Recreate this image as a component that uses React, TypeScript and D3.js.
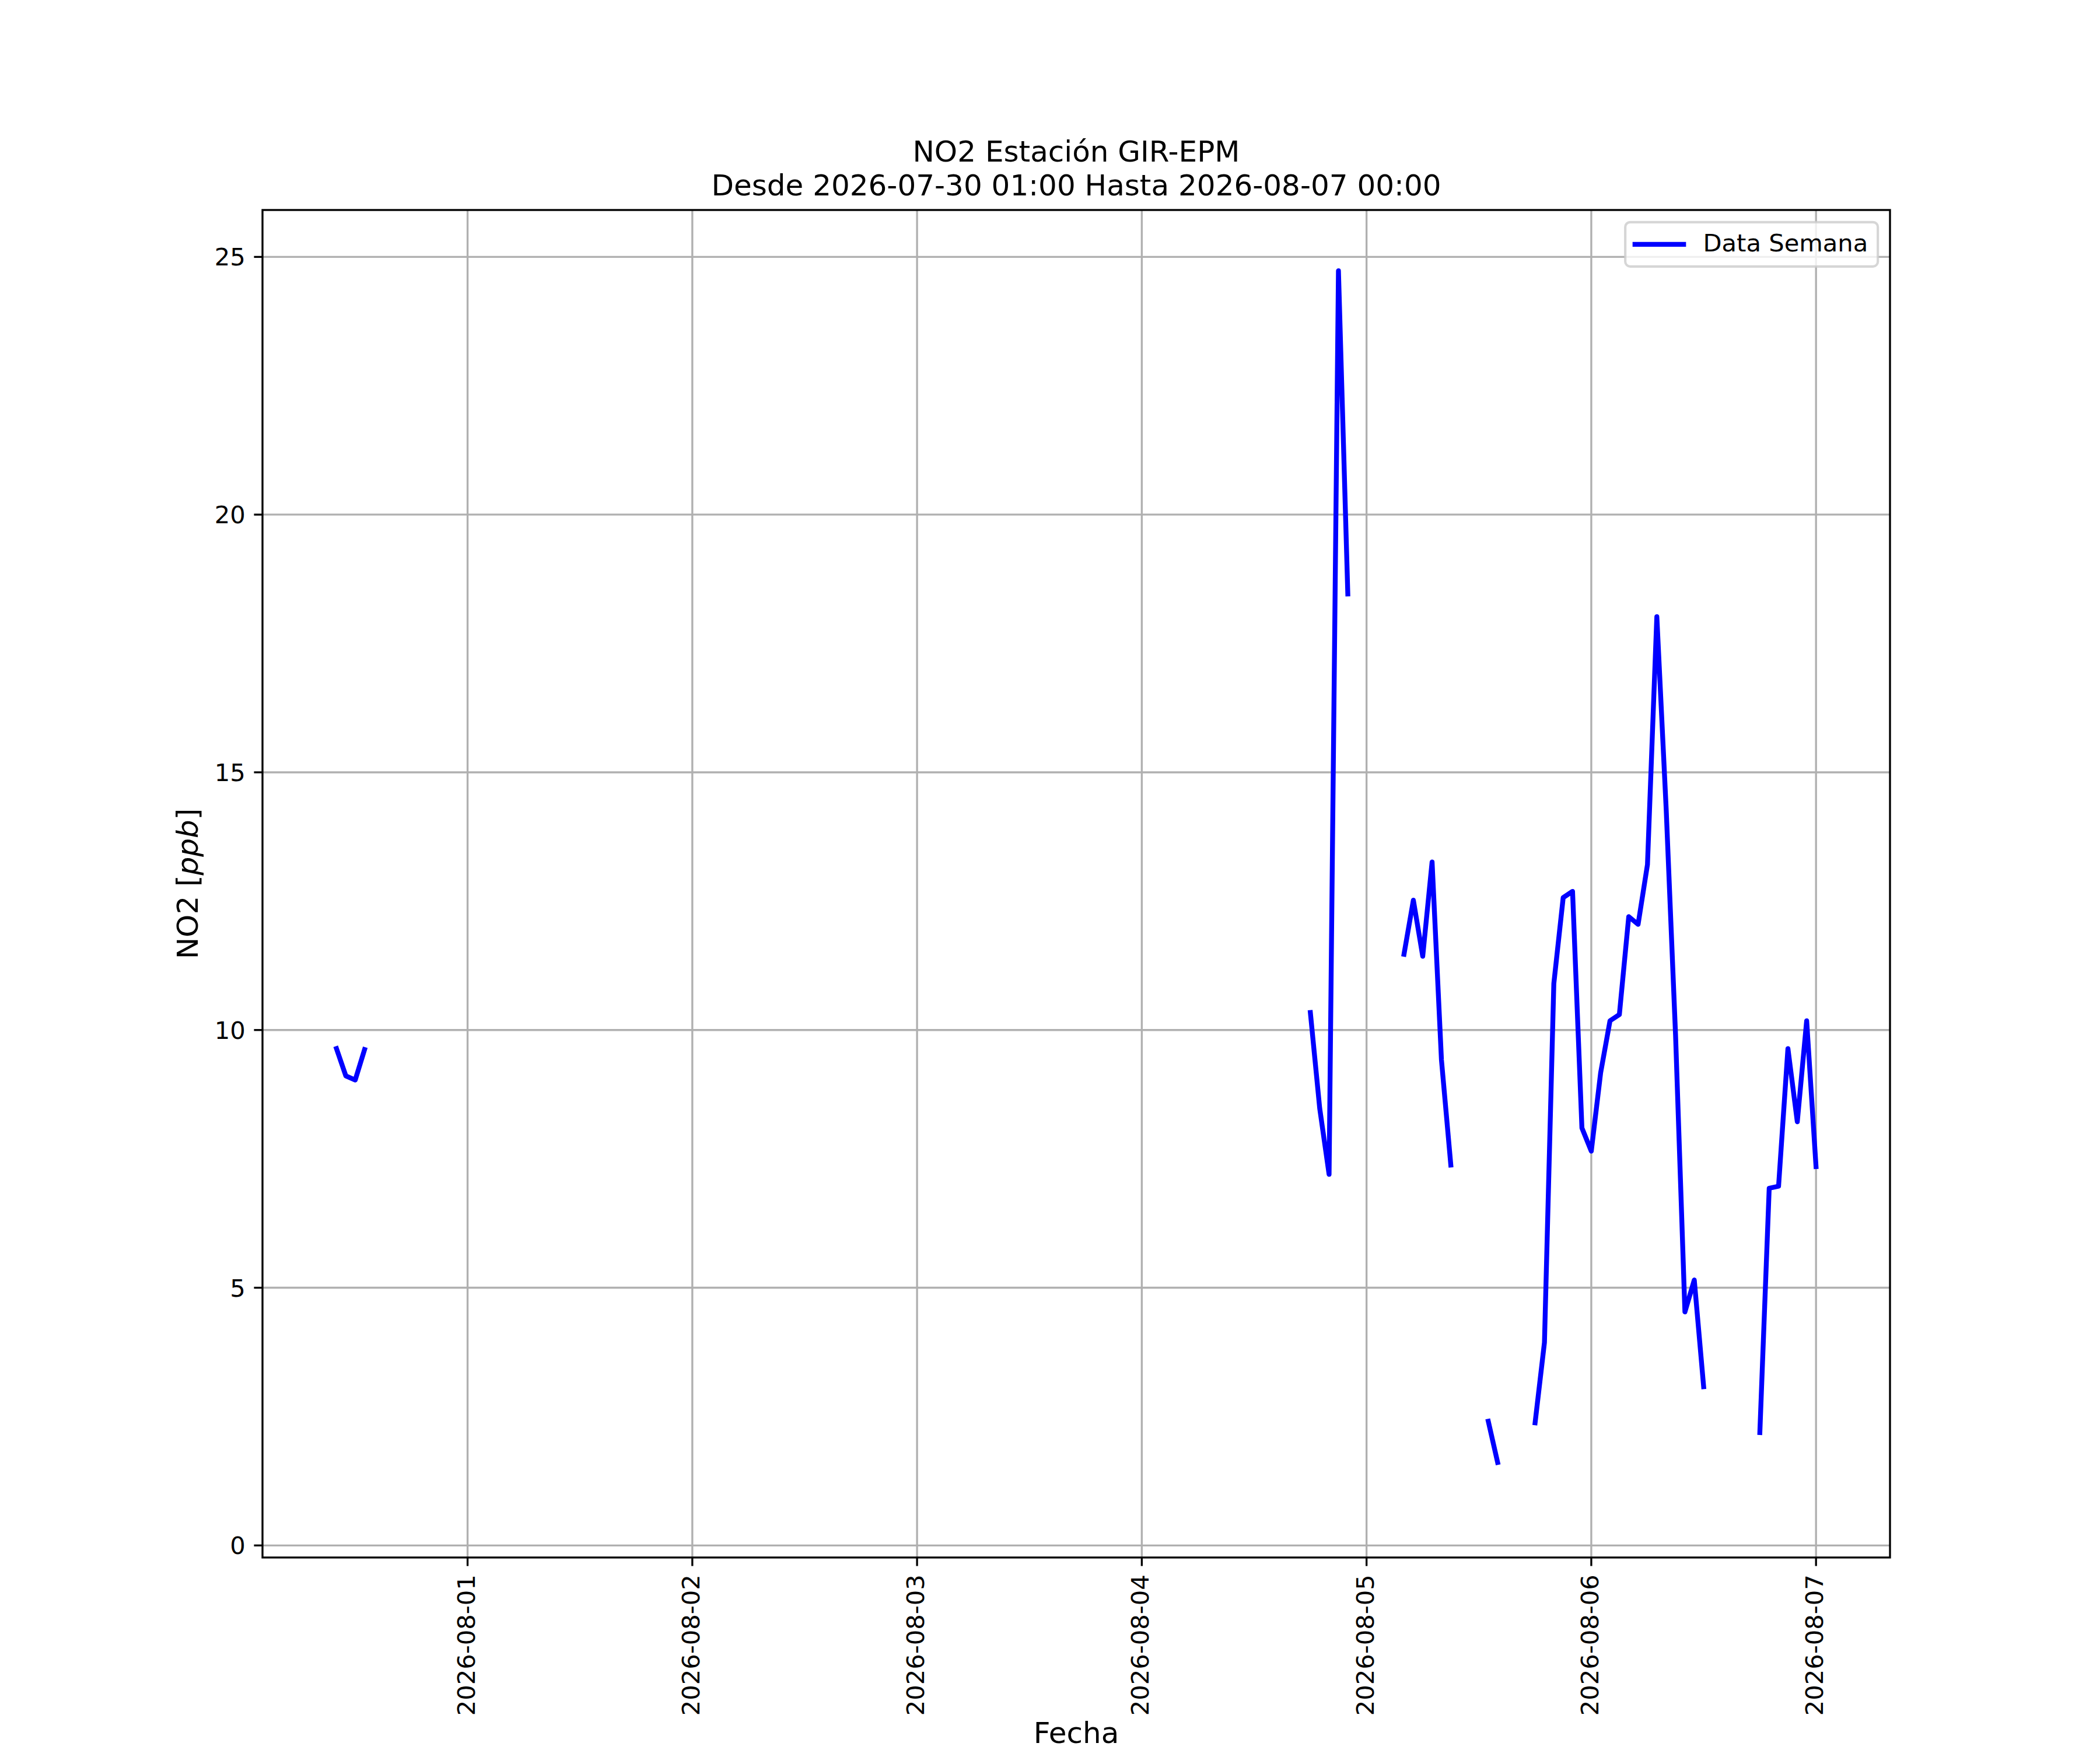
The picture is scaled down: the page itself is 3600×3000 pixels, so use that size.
import React, { useEffect, useRef } from "react";
import * as d3 from "d3";

// hourly NO2 readings, one array per unbroken stretch of data
const seg1Start = "2026-07-31T10:00:00Z";
const seg1Values = [9.64, 9.11, 9.03, 9.62];
const seg2Start = "2026-08-04T18:00:00Z";
const seg2Values = [10.34, 8.48, 7.2, 24.73, 18.46];
const seg3Start = "2026-08-05T04:00:00Z";
const seg3Values = [11.47, 12.52, 11.43, 13.26, 9.42, 7.38];
const seg4Start = "2026-08-05T13:00:00Z";
const seg4Values = [2.41, 1.61];
const seg5Start = "2026-08-05T18:00:00Z";
const seg5Values = [
  2.38, 3.94, 10.9, 12.57, 12.69, 8.1, 7.65, 9.17, 10.18, 10.3, 12.2, 12.05,
  13.21, 18.02, 14.28, 9.9, 4.53, 5.15, 3.08,
];
const seg6Start = "2026-08-06T18:00:00Z";
const seg6Values = [2.19, 6.93, 6.97, 9.64, 8.22, 10.18, 7.35];

const yTicks = [0, 5, 10, 15, 20, 25];
// y limits as shown in the picture
const yMin = -0.234;
const yMax = 25.91;

const titleLines = ["NO2 Estación GIR-EPM", "Desde 2026-07-30 01:00 Hasta 2026-08-07 00:00"];
const legendLabel = "Data Semana";

const W = 3600;
const H = 3000;
const margin = { left: 450, right: 360, top: 360, bottom: 330 };
const FONT = "DejaVu Sans, Verdana, sans-serif";
const pt = 300 / 72;

function buildSegment(start: string, values: number[]) {
  const t0 = new Date(start);
  return values.map((v, i) => ({ t: d3.utcHour.offset(t0, i), v }));
}

const App = () => {
  const ref = useRef<SVGSVGElement>(null);

  useEffect(() => {
    const svg = d3.select(ref.current);
    svg.selectAll("*").remove();

    const segments = [
      buildSegment(seg1Start, seg1Values),
      buildSegment(seg2Start, seg2Values),
      buildSegment(seg3Start, seg3Values),
      buildSegment(seg4Start, seg4Values),
      buildSegment(seg5Start, seg5Values),
      buildSegment(seg6Start, seg6Values),
    ];
    const all = segments.flat();

    const x0 = W - margin.left - margin.right;
    const y0 = H - margin.top - margin.bottom;

    // matplotlib style 5% padding on the time axis
    const tMin: any = d3.min(all, (d) => +d.t);
    const tMax: any = d3.max(all, (d) => +d.t);
    const pad = (tMax - tMin) * 0.05;
    const xScale = d3
      .scaleUtc()
      .domain([new Date(tMin - pad), new Date(tMax + pad)])
      .range([0, x0]);
    const yScale = d3.scaleLinear().domain([yMin, yMax]).range([y0, 0]);

    const g = svg.append("g").attr("transform", `translate(${margin.left},${margin.top})`);

    const xTicks = xScale.ticks(d3.utcDay);
    const fmt = d3.utcFormat("%Y-%m-%d");

    // grid
    g.append("g")
      .selectAll("line")
      .data(xTicks)
      .join("line")
      .attr("x1", (d) => xScale(d))
      .attr("x2", (d) => xScale(d))
      .attr("y1", 0)
      .attr("y2", y0)
      .attr("stroke", "#b0b0b0")
      .attr("stroke-width", 0.8 * pt);
    g.append("g")
      .selectAll("line")
      .data(yTicks)
      .join("line")
      .attr("x1", 0)
      .attr("x2", x0)
      .attr("y1", (d) => yScale(d))
      .attr("y2", (d) => yScale(d))
      .attr("stroke", "#b0b0b0")
      .attr("stroke-width", 0.8 * pt);

    // data lines
    const line = d3
      .line<any>()
      .x((d) => xScale(d.t))
      .y((d) => yScale(d.v));
    g.append("g")
      .selectAll("path")
      .data(segments)
      .join("path")
      .attr("d", line)
      .attr("fill", "none")
      .attr("stroke", "#0000ff")
      .attr("stroke-width", 2 * pt)
      .attr("stroke-linejoin", "round")
      .attr("stroke-linecap", "square");

    // spines
    g.append("rect")
      .attr("width", x0)
      .attr("height", y0)
      .attr("fill", "none")
      .attr("stroke", "#000")
      .attr("stroke-width", 0.8 * pt);

    const tickLen = 3.5 * pt;
    const tickPad = 3.5 * pt;
    const fs = 10 * pt;

    // x ticks
    const xt = g
      .append("g")
      .selectAll("g")
      .data(xTicks)
      .join("g")
      .attr("transform", (d) => `translate(${xScale(d)},${y0})`);
    xt.append("line").attr("y2", tickLen).attr("stroke", "#000").attr("stroke-width", 0.8 * pt);
    xt.append("text")
      .attr("transform", `translate(12,${tickLen + tickPad}) rotate(-90)`)
      .attr("text-anchor", "end")
      .attr("font-family", FONT)
      .attr("font-size", fs)
      .text((d) => fmt(d));

    // y ticks
    const yt = g
      .append("g")
      .selectAll("g")
      .data(yTicks)
      .join("g")
      .attr("transform", (d) => `translate(0,${yScale(d)})`);
    yt.append("line").attr("x2", -tickLen).attr("stroke", "#000").attr("stroke-width", 0.8 * pt);
    yt.append("text")
      .attr("x", -tickLen - tickPad)
      .attr("dy", "0.36em")
      .attr("text-anchor", "end")
      .attr("font-family", FONT)
      .attr("font-size", fs)
      .text((d) => d);

    // axis titles
    const yl = g
      .append("text")
      .attr("transform", `translate(${339 - margin.left},${y0 / 2}) rotate(-90)`)
      .attr("text-anchor", "middle")
      .attr("font-family", FONT)
      .attr("font-size", 12 * pt);
    yl.append("tspan").text("NO2 [");
    yl.append("tspan").attr("font-style", "italic").text("ppb");
    yl.append("tspan").text("]");

    g.append("text")
      .attr("x", x0 / 2)
      .attr("y", 2988 - margin.top)
      .attr("text-anchor", "middle")
      .attr("font-family", FONT)
      .attr("font-size", 12 * pt)
      .text("Fecha");

    // title
    g.append("g")
      .selectAll("text")
      .data(titleLines)
      .join("text")
      .attr("x", x0 / 2)
      .attr("y", (d, i) => -6 * pt - (titleLines.length - 1 - i) * 58)
      .attr("text-anchor", "middle")
      .attr("font-family", FONT)
      .attr("font-size", 12 * pt)
      .text((d) => d);

    // legend
    const lgW = 433;
    const lgH = 76;
    const lg = g.append("g").attr("transform", `translate(${x0 - 0.5 * fs - lgW},${0.5 * fs})`);
    lg.append("rect")
      .attr("width", lgW)
      .attr("height", lgH)
      .attr("rx", 0.2 * fs)
      .attr("fill", "#fff")
      .attr("fill-opacity", 0.8)
      .attr("stroke", "#cccccc")
      .attr("stroke-opacity", 0.8)
      .attr("stroke-width", 1 * pt);
    lg.append("line")
      .attr("x1", 0.4 * fs)
      .attr("x2", 0.4 * fs + 2 * fs)
      .attr("y1", lgH / 2)
      .attr("y2", lgH / 2)
      .attr("stroke", "#0000ff")
      .attr("stroke-width", 2 * pt)
      .attr("stroke-linecap", "square");
    lg.append("text")
      .attr("x", 0.4 * fs + 2.8 * fs)
      .attr("y", lgH / 2)
      .attr("dy", "0.3em")
      .attr("font-family", FONT)
      .attr("font-size", fs)
      .text(legendLabel);
  }, []);

  return (
    <div>
      <style>{`body{margin:0}`}</style>
      <svg ref={ref} width={W} height={H} style={{ display: "block", background: "#fff" }}></svg>
    </div>
  );
};

export default App;
